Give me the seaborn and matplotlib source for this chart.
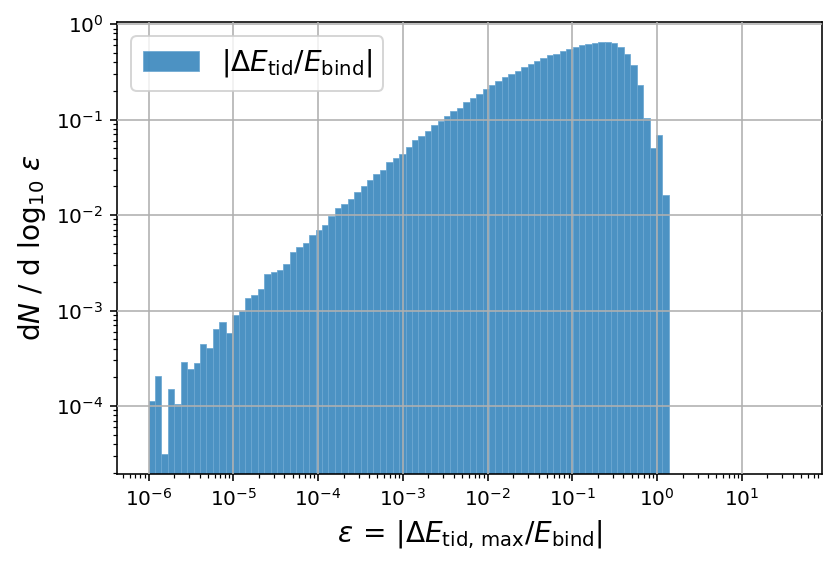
import numpy as np
import matplotlib
matplotlib.use("Agg")
import matplotlib.pyplot as plt
import seaborn as sns

# histogram of |dE_tid / E_bind|, log-spaced bins (edges in log10 units)
LOG_MIN = -6.0
LOG_MAX = 0.138
N_BINS = 81

# dN / dlog10(eps) per bin
heights = [
    1.13e-4, 2.07e-4, 3.17e-5, 1.50e-4, 1.05e-4, 2.86e-4, 2.44e-4, 2.80e-4,
    4.46e-4, 4.05e-4, 6.45e-4, 7.58e-4, 5.77e-4, 8.90e-4, 9.95e-4, 1.34e-3,
    1.44e-3, 1.67e-3, 2.39e-3, 2.53e-3, 2.65e-3, 3.04e-3, 4.13e-3, 4.58e-3,
    5.05e-3, 6.12e-3, 6.90e-3, 7.86e-3, 9.84e-3, 1.20e-2, 1.30e-2, 1.48e-2,
    1.74e-2, 2.03e-2, 2.32e-2, 2.67e-2, 2.98e-2, 3.56e-2, 3.92e-2, 4.35e-2,
    5.19e-2, 6.05e-2, 6.71e-2, 7.58e-2, 8.75e-2, 9.64e-2, 0.108, 0.124,
    0.133, 0.154, 0.168, 0.185, 0.209, 0.233, 0.253, 0.277,
    0.300, 0.322, 0.352, 0.384, 0.410, 0.441, 0.470, 0.492,
    0.522, 0.547, 0.570, 0.598, 0.622, 0.638, 0.648, 0.652,
    0.632, 0.579, 0.485, 0.375, 0.233, 0.104, 5.07e-2, 6.89e-2,
    1.62e-2,
]

legend_label = r'$|\Delta E_{\rm tid}/E_{\rm bind}|$'
xlabel = r'$\varepsilon\,=\,|\Delta E_{\rm tid,\,max}/E_{\rm bind}|$'
ylabel = r'd$N$ / d log$_{10}$ $\varepsilon$'

# one sample per bin at its (log) centre, weighted by the bin height
bw = (LOG_MAX - LOG_MIN) / N_BINS
eps = 10 ** (LOG_MIN + bw * (np.arange(N_BINS) + 0.5))

fig = plt.figure(figsize=(831 / 144, 567 / 144), dpi=144)
ax = fig.add_axes([0.1412, 0.164, 0.848, 0.797])

sns.histplot(x=eps, weights=heights, bins=N_BINS, binrange=(LOG_MIN, LOG_MAX),
             log_scale=True, color='C0', alpha=0.8, edgecolor='#6fa9d3',
             linewidth=0.4, label=legend_label, ax=ax)

ax.set_yscale('log')
ax.set_xlim(10 ** -6.369, 10 ** 1.945)
ax.set_ylim(1.94e-5, 1.05)
ax.grid(True)
ax.set_axisbelow(False)
ax.set_xlabel(xlabel, fontsize=14)
ax.set_ylabel(ylabel, fontsize=14)
ax.tick_params(labelsize=10)
ax.legend(loc='upper left', fontsize=14)

fig.savefig('out.png', dpi=144)
